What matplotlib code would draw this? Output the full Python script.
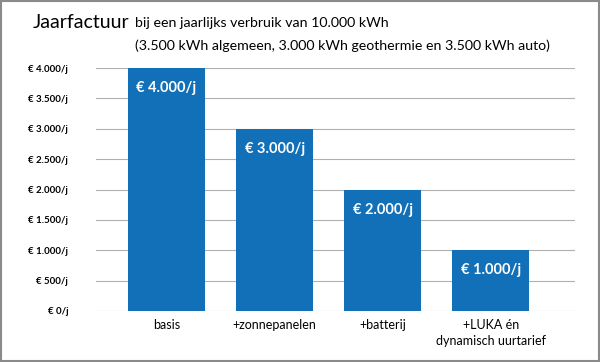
import matplotlib.pyplot as plt
from matplotlib.patches import Rectangle

categories = ['basis', '+zonnepanelen', '+batterij', '+LUKA én\ndynamisch uurtarief']
values = [4000, 3000, 2000, 1000]
bar_labels = ['€ 4.000/j', '€ 3.000/j', '€ 2.000/j', '€ 1.000/j']
yticks = [0, 500, 1000, 1500, 2000, 2500, 3000, 3500, 4000]
ytick_labels = ['€ 0/j', '€ 500/j', '€ 1.000/j', '€ 1.500/j', '€ 2.000/j',
                '€ 2.500/j', '€ 3.000/j', '€ 3.500/j', '€ 4.000/j']

plt.rcParams['font.family'] = ['Lato', 'DejaVu Sans']
blue = '#1170b8'

fig = plt.figure(figsize=(6, 3.62), dpi=100)
ax = fig.add_axes([96/600, 1-311/362, (575-96)/600, (311-68)/362])

x = range(len(values))
ax.bar(x, values, width=0.71, color=blue, zorder=3)
for i, v in enumerate(values):
    ax.text(i, v - 330, bar_labels[i], ha='center', va='center',
            color='white', fontsize=10.5, fontweight='bold', zorder=4)

ax.set_xlim(-0.653, 3.78)
ax.set_ylim(0, 4000)
ax.set_yticks(yticks)
ax.set_yticklabels(ytick_labels, fontsize=7, fontweight='bold')
ax.set_xticks(list(x))
ax.set_xticklabels(categories, fontsize=9, linespacing=1.35)
ax.grid(axis='y', color='#b0b0b0', linewidth=0.8, zorder=0)
for s in ax.spines.values():
    s.set_visible(False)
ax.tick_params(axis='both', length=0)
ax.tick_params(axis='y', pad=20)
ax.tick_params(axis='x', pad=6)

fig.text(33/600, 1-22/362, 'Jaarfactuur', fontsize=14, va='center', ha='left')
fig.text(135/600, 1-23/362, 'bij een jaarlijks verbruik van 10.000 kWh', fontsize=10.2, va='center', ha='left')
fig.text(135/600, 1-46/362, '(3.500 kWh algemeen, 3.000 kWh geothermie en 3.500 kWh auto)', fontsize=10.2, va='center', ha='left')

fig.patches.append(Rectangle((0.002, 0.003), 0.996, 0.994, transform=fig.transFigure,
                             fill=False, edgecolor='#8a8a8a', linewidth=1.5))

fig.savefig('out.png', dpi=100)
